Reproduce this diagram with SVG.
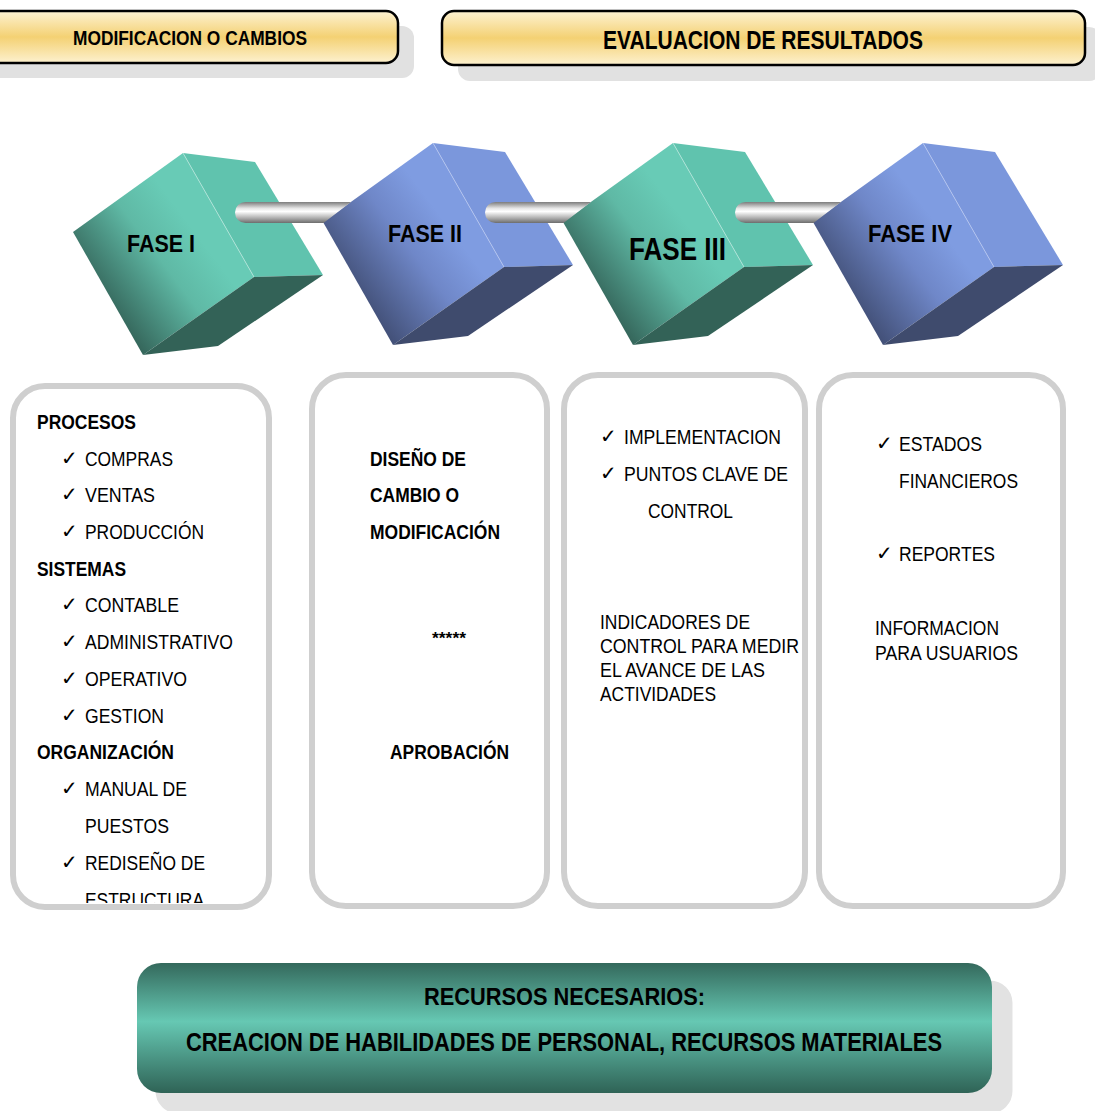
<svg xmlns="http://www.w3.org/2000/svg" width="1095" height="1111" viewBox="0 0 1095 1111">
<defs>
<linearGradient id="gold" x1="0" y1="0" x2="0" y2="1">
<stop offset="0" stop-color="#fdf2d2"/><stop offset="0.5" stop-color="#f4d173"/><stop offset="1" stop-color="#fdf1cf"/>
</linearGradient>
<linearGradient id="tealBar" x1="0" y1="0" x2="0" y2="1">
<stop offset="0" stop-color="#34695c"/><stop offset="0.45" stop-color="#66c8b3"/><stop offset="1" stop-color="#2f6356"/>
</linearGradient>
<linearGradient id="tealFront" x1="0.15" y1="0.8" x2="0.75" y2="0.3">
<stop offset="0" stop-color="#2f5a50"/><stop offset="0.55" stop-color="#5fb9a5"/><stop offset="0.85" stop-color="#68cbb6"/>
</linearGradient>
<linearGradient id="blueFront" x1="0.15" y1="0.8" x2="0.75" y2="0.3">
<stop offset="0" stop-color="#3c486c"/><stop offset="0.55" stop-color="#6f87c8"/><stop offset="0.85" stop-color="#7f9ce1"/>
</linearGradient>
<linearGradient id="rod" x1="0" y1="0" x2="0" y2="1">
<stop offset="0" stop-color="#7c7c7c"/><stop offset="0.3" stop-color="#e6e6e6"/><stop offset="0.45" stop-color="#ffffff"/><stop offset="0.75" stop-color="#b2b2b2"/><stop offset="1" stop-color="#6d6d6d"/>
</linearGradient>
<clipPath id="box1clip"><rect x="16" y="389" width="250" height="514" rx="29"/></clipPath>
</defs>
<style>
.t{font-family:"Liberation Sans Narrow","Liberation Sans",Arial,sans-serif;fill:#000}
.b{font-weight:bold}
.n{font-size:20px}
.ck{font-family:"DejaVu Sans",sans-serif;font-size:20px;fill:#000}
.box{fill:#fff;stroke:#cfcfcf;stroke-width:6}
.boxf{fill:#fff}
.boxs{fill:none;stroke:#cfcfcf;stroke-width:6}
.ban{fill:url(#gold);stroke:#000;stroke-width:2.5}
.shad{fill:#e1e1e1}
.tr{fill:#60c3ae}.tb{fill:#336257}.tf{fill:url(#tealFront)}
.br{fill:#7b97dc}.bb{fill:#3f4b6d}.bf{fill:url(#blueFront)}
.edge{stroke:#b8e6dc;stroke-width:0.8;fill:none}
.edgeb{stroke:#b9c8f0;stroke-width:0.8;fill:none}
.rod{fill:url(#rod)}
</style>

<g id="banner-modificacion">
<rect class="shad" x="-14" y="26" width="428" height="52" rx="12"/>
<rect class="ban" x="-30" y="11" width="428" height="52" rx="12"/>
<text class="t b" x="190" y="45" font-size="19.5" text-anchor="middle" textLength="234" lengthAdjust="spacingAndGlyphs">MODIFICACION O CAMBIOS</text>
</g>

<g id="banner-evaluacion">
<rect class="shad" x="458" y="27" width="643" height="54" rx="12"/>
<rect class="ban" x="442" y="11" width="643" height="54" rx="12"/>
<text class="t b" x="763" y="49" font-size="25" text-anchor="middle" textLength="320" lengthAdjust="spacingAndGlyphs">EVALUACION DE RESULTADOS</text>
</g>

<g id="fase1">
<polygon class="tf" points="73,232 183,153 254,277 143,355"/>
<polygon class="tr" points="183,153 255,162 323,275 254,277"/>
<polygon class="tb" points="254,277 323,275 218,346 143,355"/>
<line class="edge" x1="183" y1="153" x2="254" y2="277"/>
<text class="t b" x="161" y="252" font-size="23" text-anchor="middle" textLength="68" lengthAdjust="spacingAndGlyphs">FASE I</text>
</g>

<g id="fase2" transform="translate(250,-10)">
<polygon class="bf" points="73,232 183,153 254,277 143,355"/>
<polygon class="br" points="183,153 255,162 323,275 254,277"/>
<polygon class="bb" points="254,277 323,275 218,346 143,355"/>
<line class="edgeb" x1="183" y1="153" x2="254" y2="277"/>
<text class="t b" x="175" y="252" font-size="23" text-anchor="middle" textLength="74" lengthAdjust="spacingAndGlyphs">FASE II</text>
</g>

<g id="fase3" transform="translate(490,-10)">
<polygon class="tf" points="73,232 183,153 254,277 143,355"/>
<polygon class="tr" points="183,153 255,162 323,275 254,277"/>
<polygon class="tb" points="254,277 323,275 218,346 143,355"/>
<line class="edge" x1="183" y1="153" x2="254" y2="277"/>
<text class="t b" x="187.5" y="270" font-size="31" text-anchor="middle" textLength="97" lengthAdjust="spacingAndGlyphs">FASE III</text>
</g>

<g id="fase4" transform="translate(740,-10)">
<polygon class="bf" points="73,232 183,153 254,277 143,355"/>
<polygon class="br" points="183,153 255,162 323,275 254,277"/>
<polygon class="bb" points="254,277 323,275 218,346 143,355"/>
<line class="edgeb" x1="183" y1="153" x2="254" y2="277"/>
<text class="t b" x="170" y="252" font-size="23" text-anchor="middle" textLength="84" lengthAdjust="spacingAndGlyphs">FASE IV</text>
</g>

<g id="connectors">
<path class="rod" d="M245.5,202 L351,202 L323.5,223 L245.5,223 A10.5,10.5 0 0 1 245.5,202 Z"/>
<path class="rod" d="M495.5,202 L591,202 L563.5,223 L495.5,223 A10.5,10.5 0 0 1 495.5,202 Z"/>
<path class="rod" d="M745.5,202 L841,202 L813.5,223 L745.5,223 A10.5,10.5 0 0 1 745.5,202 Z"/>
</g>

<g id="box-fase1">
<rect class="boxf" x="13" y="386" width="256" height="521" rx="32"/>
<g clip-path="url(#box1clip)">
<text class="t b n" x="37" y="429" textLength="99" lengthAdjust="spacingAndGlyphs">PROCESOS</text>
<text class="ck" x="61" y="465">✓</text><text class="t n" x="85" y="466" textLength="88" lengthAdjust="spacingAndGlyphs">COMPRAS</text>
<text class="ck" x="61" y="501">✓</text><text class="t n" x="85" y="502" textLength="70" lengthAdjust="spacingAndGlyphs">VENTAS</text>
<text class="ck" x="61" y="538">✓</text><text class="t n" x="85" y="539" textLength="119" lengthAdjust="spacingAndGlyphs">PRODUCCIÓN</text>
<text class="t b n" x="37" y="576" textLength="89" lengthAdjust="spacingAndGlyphs">SISTEMAS</text>
<text class="ck" x="61" y="611">✓</text><text class="t n" x="85" y="612" textLength="94" lengthAdjust="spacingAndGlyphs">CONTABLE</text>
<text class="ck" x="61" y="648">✓</text><text class="t n" x="85" y="649" textLength="148" lengthAdjust="spacingAndGlyphs">ADMINISTRATIVO</text>
<text class="ck" x="61" y="685">✓</text><text class="t n" x="85" y="686" textLength="102" lengthAdjust="spacingAndGlyphs">OPERATIVO</text>
<text class="ck" x="61" y="722">✓</text><text class="t n" x="85" y="723" textLength="79" lengthAdjust="spacingAndGlyphs">GESTION</text>
<text class="t b n" x="37" y="759" textLength="137" lengthAdjust="spacingAndGlyphs">ORGANIZACIÓN</text>
<text class="ck" x="61" y="795">✓</text><text class="t n" x="85" y="796" textLength="102" lengthAdjust="spacingAndGlyphs">MANUAL DE</text>
<text class="t n" x="85" y="833" textLength="84" lengthAdjust="spacingAndGlyphs">PUESTOS</text>
<text class="ck" x="61" y="869">✓</text><text class="t n" x="85" y="870" textLength="120" lengthAdjust="spacingAndGlyphs">REDISEÑO DE</text>
<text class="t n" x="85" y="907" textLength="119" lengthAdjust="spacingAndGlyphs">ESTRUCTURA</text>
</g>
<rect class="boxs" x="13" y="386" width="256" height="521" rx="32"/>
</g>

<g id="box-fase2">
<rect class="box" x="312" y="375" width="235" height="531" rx="34"/>
<text class="t b n" x="370" y="466" textLength="96" lengthAdjust="spacingAndGlyphs">DISEÑO DE</text>
<text class="t b n" x="370" y="502" textLength="89" lengthAdjust="spacingAndGlyphs">CAMBIO O</text>
<text class="t b n" x="370" y="539" textLength="130" lengthAdjust="spacingAndGlyphs">MODIFICACIÓN</text>
<text class="t b" x="432" y="644" font-size="16" textLength="34" lengthAdjust="spacingAndGlyphs">*****</text>
<text class="t b n" x="390" y="759" textLength="119" lengthAdjust="spacingAndGlyphs">APROBACIÓN</text>
</g>

<g id="box-fase3">
<rect class="box" x="564" y="375" width="241" height="531" rx="34"/>
<text class="ck" x="600" y="443">✓</text><text class="t n" x="624" y="444" textLength="157" lengthAdjust="spacingAndGlyphs">IMPLEMENTACION</text>
<text class="ck" x="600" y="480">✓</text><text class="t n" x="624" y="481" textLength="164" lengthAdjust="spacingAndGlyphs">PUNTOS CLAVE DE</text>
<text class="t n" x="648" y="518" textLength="85" lengthAdjust="spacingAndGlyphs">CONTROL</text>
<text class="t n" x="600" y="629" textLength="150" lengthAdjust="spacingAndGlyphs">INDICADORES DE</text>
<text class="t n" x="600" y="653" textLength="199" lengthAdjust="spacingAndGlyphs">CONTROL PARA MEDIR</text>
<text class="t n" x="600" y="677" textLength="165" lengthAdjust="spacingAndGlyphs">EL AVANCE DE LAS</text>
<text class="t n" x="600" y="701" textLength="116" lengthAdjust="spacingAndGlyphs">ACTIVIDADES</text>
</g>

<g id="box-fase4">
<rect class="box" x="819" y="375" width="244" height="531" rx="34"/>
<text class="ck" x="876" y="450">✓</text><text class="t n" x="899" y="451" textLength="83" lengthAdjust="spacingAndGlyphs">ESTADOS</text>
<text class="t n" x="899" y="488" textLength="119" lengthAdjust="spacingAndGlyphs">FINANCIEROS</text>
<text class="ck" x="876" y="560">✓</text><text class="t n" x="899" y="561" textLength="96" lengthAdjust="spacingAndGlyphs">REPORTES</text>
<text class="t n" x="875" y="635" textLength="124" lengthAdjust="spacingAndGlyphs">INFORMACION</text>
<text class="t n" x="875" y="660" textLength="143" lengthAdjust="spacingAndGlyphs">PARA USUARIOS</text>
</g>

<g id="banner-recursos">
<rect x="154" y="979" width="860" height="136" rx="24" fill="#e2e2e2" stroke="#ffffff" stroke-width="3"/>
<rect x="137" y="963" width="855" height="130" rx="24" fill="url(#tealBar)"/>
<text class="t b" x="564.5" y="1005" font-size="24" text-anchor="middle" textLength="281" lengthAdjust="spacingAndGlyphs">RECURSOS NECESARIOS:</text>
<text class="t b" x="564" y="1051" font-size="25" text-anchor="middle" textLength="756" lengthAdjust="spacingAndGlyphs">CREACION DE HABILIDADES DE PERSONAL, RECURSOS MATERIALES</text>
</g>
</svg>
